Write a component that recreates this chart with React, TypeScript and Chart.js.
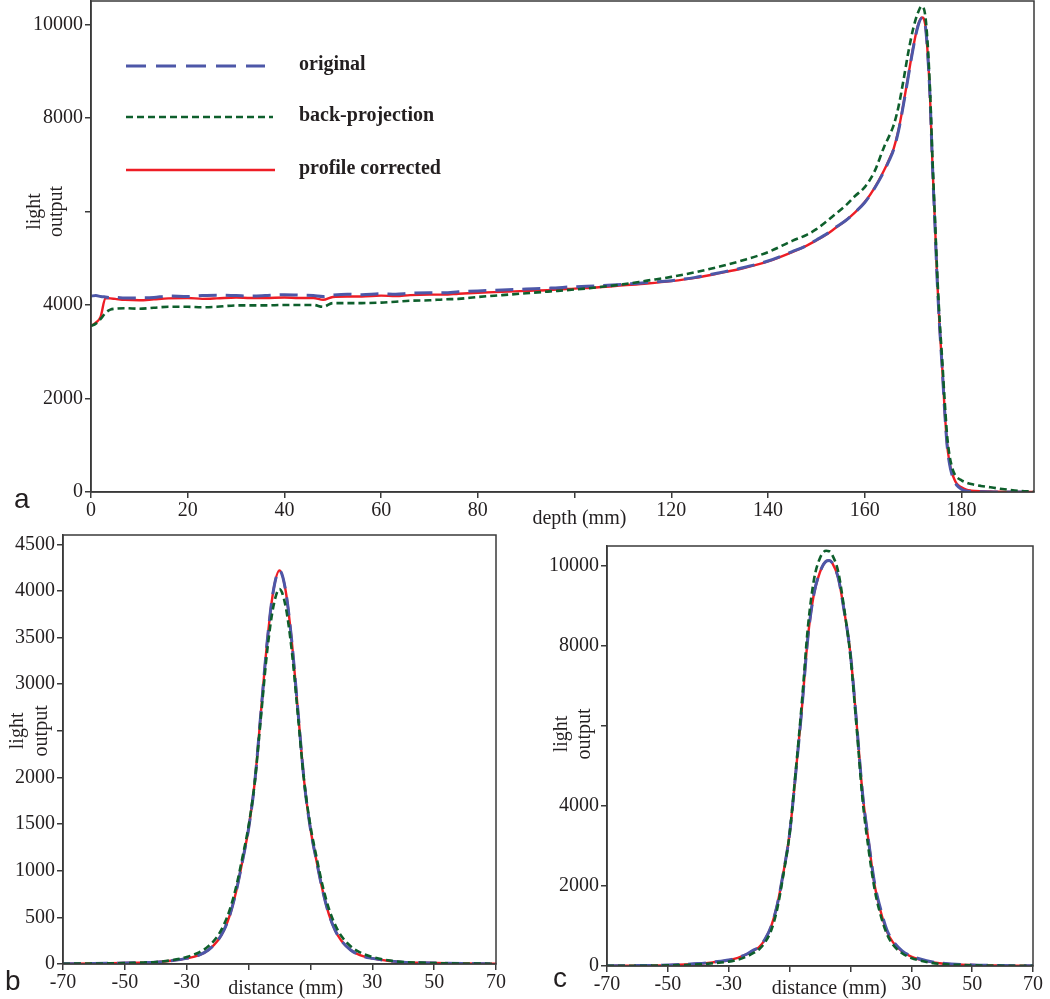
import React, { useEffect, useRef } from "react";
import { Chart, registerables } from "chart.js";

Chart.register(...registerables);

// ---------------- DATA ----------------
// Panel a: light output vs depth (mm)
const DEPTH = [0, 1, 2, 3, 4, 5, 7, 10, 13, 16, 20, 23, 26, 30, 33, 36, 40, 43, 46, 48, 50, 53, 56, 60, 63, 66, 70, 73, 76, 80, 85, 90, 95, 100, 105, 110, 115, 120, 125, 130, 135, 140, 145, 148, 150, 152, 154, 156, 158, 160, 162, 164, 165, 166, 167, 168, 169, 170, 171, 171.8, 172.5, 173, 173.5, 174, 174.5, 175, 175.5, 176, 176.5, 177, 177.5, 178, 178.5, 179, 180, 181, 182, 184, 186, 188, 190, 192, 195];
const A_ORIGINAL = [4190, 4200, 4180, 4170, 4160, 4160, 4150, 4150, 4160, 4190, 4180, 4200, 4210, 4200, 4190, 4200, 4220, 4210, 4200, 4180, 4210, 4230, 4220, 4240, 4230, 4250, 4260, 4260, 4280, 4300, 4320, 4340, 4360, 4390, 4410, 4440, 4480, 4520, 4590, 4690, 4800, 4940, 5140, 5270, 5390, 5510, 5660, 5800, 5980, 6190, 6490, 6860, 7080, 7330, 7730, 8280, 8880, 9480, 9960, 10130, 9990, 9400, 8450, 7000, 5750, 4480, 3500, 2680, 1780, 1030, 620, 380, 240, 150, 60, 20, 10, 5, 0, 0, 0, 0, 0];
const A_BACKPROJ = [3550, 3600, 3700, 3830, 3900, 3920, 3930, 3920, 3940, 3960, 3960, 3950, 3960, 3990, 3990, 3990, 4000, 4000, 4000, 3960, 4040, 4040, 4040, 4050, 4070, 4090, 4100, 4120, 4130, 4170, 4210, 4250, 4290, 4330, 4380, 4440, 4520, 4600, 4700, 4820, 4960, 5130, 5370, 5500, 5620, 5780, 5950, 6120, 6330, 6520, 6850, 7380, 7600, 7850, 8250, 8800, 9400, 9900, 10250, 10390, 10200, 9600, 8600, 7150, 5900, 4650, 3650, 2850, 2000, 1250, 800, 550, 400, 320, 250, 200, 170, 130, 100, 70, 45, 25, 10];
const A_CORRECTED = [3550, 3620, 3750, 4150, 4140, 4130, 4110, 4100, 4120, 4140, 4150, 4130, 4140, 4160, 4150, 4150, 4160, 4150, 4150, 4110, 4170, 4180, 4180, 4200, 4190, 4210, 4220, 4220, 4240, 4260, 4280, 4300, 4320, 4350, 4380, 4420, 4460, 4510, 4580, 4680, 4790, 4930, 5130, 5270, 5380, 5500, 5650, 5800, 5980, 6200, 6500, 6880, 7100, 7350, 7750, 8300, 8900, 9500, 9980, 10150, 10000, 9400, 8450, 7000, 5800, 4500, 3500, 2700, 1800, 1050, 650, 420, 280, 180, 100, 50, 30, 15, 10, 5, 3, 2, 0];

// Panel b: lateral profile (mm)
const DIST_B = [-70, -60, -50, -45, -40, -35, -30, -26, -23, -20, -18, -16, -14, -12, -10, -8, -6, -4, -2, 0, 2, 4, 6, 8, 10, 12, 14, 16, 18, 20, 23, 26, 30, 35, 40, 45, 50, 60, 70];
const B_ORIGINAL = [3, 5, 10, 14, 20, 35, 60, 95, 150, 250, 360, 530, 780, 1100, 1450, 1950, 2700, 3450, 4000, 4220, 4000, 3450, 2700, 1950, 1450, 1100, 780, 530, 360, 250, 150, 95, 60, 35, 20, 14, 10, 5, 3];
const B_BACKPROJ = [3, 5, 10, 15, 22, 40, 75, 125, 190, 300, 420, 590, 830, 1140, 1480, 1950, 2650, 3350, 3830, 4020, 3830, 3350, 2650, 1950, 1480, 1140, 830, 590, 420, 300, 190, 125, 75, 40, 22, 15, 10, 5, 3];
const B_CORRECTED = [3, 5, 10, 14, 20, 35, 60, 95, 150, 250, 360, 530, 780, 1100, 1450, 1950, 2700, 3450, 4000, 4220, 4000, 3450, 2700, 1950, 1450, 1100, 780, 530, 360, 250, 150, 95, 60, 35, 20, 14, 10, 5, 3];

// Panel c: lateral profile (mm)
const DIST_C = [-70, -60, -50, -40, -35, -30, -27, -24, -22, -20, -18, -16, -14, -12, -10, -8, -6, -4, -2, 0, 2, 3, 4, 6, 8, 10, 12, 14, 16, 18, 20, 22, 24, 27, 30, 35, 40, 50, 60, 70];
const C_ORIGINAL = [5, 10, 25, 60, 100, 150, 210, 300, 390, 480, 680, 1000, 1550, 2350, 3300, 4800, 6400, 8200, 9300, 9850, 10120, 10140, 10080, 9700, 8850, 7800, 6100, 4300, 3100, 2050, 1400, 900, 620, 380, 250, 130, 70, 28, 12, 5];
const C_BACKPROJ = [3, 6, 15, 40, 70, 110, 160, 240, 320, 420, 600, 900, 1450, 2300, 3300, 4850, 6550, 8450, 9650, 10200, 10380, 10370, 10280, 9850, 8900, 7750, 6000, 4150, 2900, 1900, 1250, 800, 530, 320, 200, 100, 50, 20, 8, 3];
const C_CORRECTED = [4, 8, 20, 55, 95, 145, 205, 295, 385, 475, 675, 1000, 1550, 2350, 3300, 4800, 6400, 8200, 9300, 9850, 10120, 10140, 10080, 9700, 8850, 7800, 6100, 4300, 3100, 2000, 1350, 860, 590, 360, 235, 120, 62, 24, 10, 4];

// Ticks
const A_XTICKS = [0, 20, 40, 60, 80, 100, 120, 140, 160, 180];
const A_YTICKS = [0, 2000, 4000, 6000, 8000, 10000];
const B_XTICKS = [-70, -50, -30, -10, 10, 30, 50, 70];
const B_YTICKS = [0, 500, 1000, 1500, 2000, 2500, 3000, 3500, 4000, 4500];
const C_XTICKS = [-70, -50, -30, -10, 10, 30, 50, 70];
const C_YTICKS = [0, 2000, 4000, 6000, 8000, 10000];

const SERIES = ["original", "back-projection", "profile corrected"];

// ---------------- STYLE ----------------
const SERIF = "'Liberation Serif', 'Times New Roman', serif";
const SANS = "'Liberation Sans', Arial, sans-serif";
const INK = "#231f20";
const AXIS = "#3a3a3a";
const BLUE = "#4d57a8";
const GREEN = "#0e5f2c";
const RED = "#ee1d25";

const pts = (xs: number[], ys: number[]) => xs.map((x, i) => ({ x, y: ys[i] }));

function datasets(xs: number[], orig: number[], back: number[], corr: number[]) {
  // first dataset is drawn on top
  return [
    { label: SERIES[1], data: pts(xs, back), borderColor: GREEN, borderWidth: 2.6, borderDash: [7, 4], pointRadius: 0, fill: false, cubicInterpolationMode: "monotone" },
    { label: SERIES[0], data: pts(xs, orig), borderColor: BLUE, borderWidth: 3, borderDash: [18, 9], pointRadius: 0, fill: false, cubicInterpolationMode: "monotone" },
    { label: SERIES[2], data: pts(xs, corr), borderColor: RED, borderWidth: 2.4, pointRadius: 0, fill: false, cubicInterpolationMode: "monotone" },
  ];
}

function text(ctx: CanvasRenderingContext2D, s: string, x: number, y: number, font: string, align: CanvasTextAlign = "center", baseline: CanvasTextBaseline = "middle", rot = 0) {
  ctx.save();
  ctx.translate(x, y);
  if (rot) ctx.rotate(rot);
  ctx.font = font;
  ctx.fillStyle = INK;
  ctx.textAlign = align;
  ctx.textBaseline = baseline;
  ctx.fillText(s, 0, 0);
  ctx.restore();
}

const framePlugin = {
  id: "frame",
  afterDraw(chart: any) {
    const { ctx, chartArea: a } = chart;
    ctx.save();
    ctx.strokeStyle = AXIS;
    ctx.lineWidth = 1.5;
    ctx.strokeRect(a.left, a.top, a.right - a.left, a.bottom - a.top);
    ctx.restore();
  },
};

type Extra = {
  yTitleX: [number, number];
  yTitleValue: number;
  xTitle: string;
  xTitleValue: number;
  xTitleBaseline: number;
  panel: string;
  panelX: number;
  panelBaseline: number;
  legend?: boolean;
};

function annotPlugin(e: Extra) {
  return {
    id: "annot",
    afterDraw(chart: any) {
      const { ctx } = chart;
      const y = chart.scales.y.getPixelForValue(e.yTitleValue);
      const f = `20px ${SERIF}`;
      text(ctx, "light", e.yTitleX[0], y, f, "center", "middle", -Math.PI / 2);
      text(ctx, "output", e.yTitleX[1], y, f, "center", "middle", -Math.PI / 2);
      const xt = chart.scales.x.getPixelForValue(e.xTitleValue);
      text(ctx, e.xTitle, xt, e.xTitleBaseline, f, "center", "alphabetic");
      text(ctx, e.panel, e.panelX, e.panelBaseline, `28px ${SANS}`, "left", "alphabetic");
      if (e.legend) {
        const rows = [
          { y: 66, color: BLUE, dash: [20, 10], w: 3, end: 265, label: SERIES[0] },
          { y: 117, color: GREEN, dash: [7, 4], w: 2.6, end: 273, label: SERIES[1] },
          { y: 170, color: RED, dash: [], w: 2.4, end: 275, label: SERIES[2] },
        ];
        for (const r of rows) {
          ctx.save();
          ctx.strokeStyle = r.color;
          ctx.lineWidth = r.w;
          ctx.setLineDash(r.dash);
          ctx.beginPath();
          ctx.moveTo(126, r.y);
          ctx.lineTo(r.end, r.y);
          ctx.stroke();
          ctx.restore();
          text(ctx, r.label, 299, r.y - 1, `bold 20px ${SERIF}`, "left", "middle");
        }
      }
    },
  };
}

function makeConfig(opts: {
  xs: number[]; orig: number[]; back: number[]; corr: number[];
  xmin: number; xmax: number; ymax: number;
  xticks: number[]; yticks: number[]; hideX: number[]; hideY: number[];
  yWidth: number; xHeight: number; padding: any; extra: Extra;
}) {
  const tickFont = { family: SERIF, size: 20 };
  return {
    type: "line",
    data: { datasets: datasets(opts.xs, opts.orig, opts.back, opts.corr) },
    options: {
      animation: false,
      responsive: true,
      maintainAspectRatio: false,
      events: [],
      layout: { padding: opts.padding },
      plugins: { legend: { display: false }, tooltip: { enabled: false }, title: { display: false } },
      scales: {
        x: {
          type: "linear",
          min: opts.xmin,
          max: opts.xmax,
          afterBuildTicks: (s: any) => { s.ticks = opts.xticks.map((v) => ({ value: v })); },
          afterFit: (s: any) => { s.height = opts.xHeight; s.paddingLeft = 0; s.paddingRight = 0; },
          grid: { drawOnChartArea: false, drawTicks: true, tickLength: 6, color: AXIS, lineWidth: 1.5 },
          border: { display: true, color: AXIS, width: 1.5 },
          ticks: {
            font: tickFont, color: INK, padding: 1, maxRotation: 0, autoSkip: false,
            callback: (v: any) => (opts.hideX.includes(Number(v)) ? "" : String(v)),
          },
        },
        y: {
          type: "linear",
          min: 0,
          max: opts.ymax,
          afterBuildTicks: (s: any) => { s.ticks = opts.yticks.map((v) => ({ value: v })); },
          afterFit: (s: any) => { s.width = opts.yWidth; s.paddingTop = 0; s.paddingBottom = 0; },
          grid: { drawOnChartArea: false, drawTicks: true, tickLength: 6, color: AXIS, lineWidth: 1.5 },
          border: { display: true, color: AXIS, width: 1.5 },
          ticks: {
            font: tickFont, color: INK, padding: 2, autoSkip: false,
            callback: (v: any) => (opts.hideY.includes(Number(v)) ? "" : String(v)),
          },
        },
      },
    },
    plugins: [framePlugin, annotPlugin(opts.extra)],
  };
}

function Panel({ box, config }: { box: { left: number; top: number; width: number; height: number }; config: any }) {
  const ref = useRef<HTMLCanvasElement | null>(null);
  useEffect(() => {
    if (!ref.current) return;
    const chart = new Chart(ref.current, config as any);
    return () => chart.destroy();
  }, []);
  return (
    <div style={{ position: "absolute", left: box.left, top: box.top, width: box.width, height: box.height }}>
      <canvas ref={ref} />
    </div>
  );
}

export default function App() {
  const cfgA = makeConfig({
    xs: DEPTH, orig: A_ORIGINAL, back: A_BACKPROJ, corr: A_CORRECTED,
    xmin: 0, xmax: 195, ymax: 10500,
    xticks: A_XTICKS, yticks: A_YTICKS, hideX: [100], hideY: [6000],
    yWidth: 91, xHeight: 38, padding: { top: 1, right: 16, left: 0, bottom: 0 },
    extra: { yTitleX: [35, 57], yTitleValue: 6000, xTitle: "depth (mm)", xTitleValue: 101, xTitleBaseline: 524, panel: "a", panelX: 14, panelBaseline: 508, legend: true },
  });
  const cfgB = makeConfig({
    xs: DIST_B, orig: B_ORIGINAL, back: B_BACKPROJ, corr: B_CORRECTED,
    xmin: -70, xmax: 70, ymax: 4600,
    xticks: B_XTICKS, yticks: B_YTICKS, hideX: [-10, 10], hideY: [2500],
    yWidth: 63, xHeight: 35, padding: { top: 25, right: 24, left: 0, bottom: 0 },
    extra: { yTitleX: [18, 42], yTitleValue: 2500, xTitle: "distance (mm)", xTitleValue: 2, xTitleBaseline: 484, panel: "b", panelX: 5, panelBaseline: 480 },
  });
  const cfgC = makeConfig({
    xs: DIST_C, orig: C_ORIGINAL, back: C_BACKPROJ, corr: C_CORRECTED,
    xmin: -70, xmax: 70, ymax: 10500,
    xticks: C_XTICKS, yticks: C_YTICKS, hideX: [-10, 10], hideY: [6000],
    yWidth: 87, xHeight: 33, padding: { top: 36, right: 17, left: 0, bottom: 0 },
    extra: { yTitleX: [42, 65], yTitleValue: 5800, xTitle: "distance (mm)", xTitleValue: 3, xTitleBaseline: 484, panel: "c", panelX: 33, panelBaseline: 477 },
  });
  return (
    <div style={{ position: "absolute", left: 0, top: 0, width: 1050, height: 999, background: "#fff", overflow: "hidden" }}>
      <Panel box={{ left: 0, top: 0, width: 1050, height: 530 }} config={cfgA} />
      <Panel box={{ left: 0, top: 510, width: 520, height: 489 }} config={cfgB} />
      <Panel box={{ left: 520, top: 510, width: 530, height: 489 }} config={cfgC} />
    </div>
  );
}
